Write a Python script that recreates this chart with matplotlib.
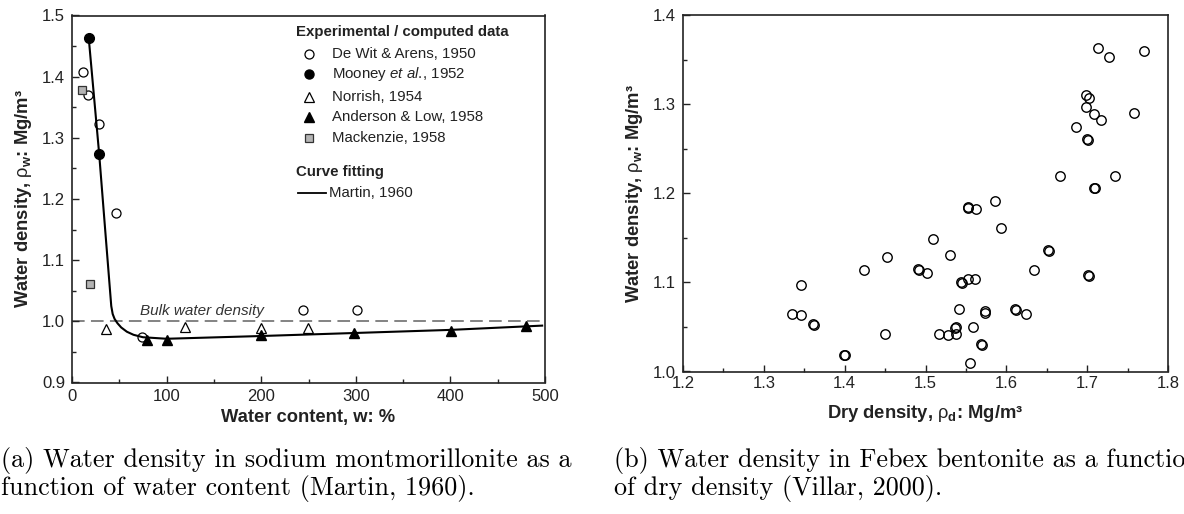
import matplotlib
matplotlib.use("Agg")
import matplotlib.pyplot as plt
from matplotlib.ticker import MultipleLocator, FormatStrFormatter
from matplotlib.lines import Line2D

plt.rcParams['font.family'] = ['Liberation Sans', 'DejaVu Sans']
plt.rcParams['mathtext.fontset'] = 'custom'
plt.rcParams['mathtext.rm'] = 'Liberation Sans'
plt.rcParams['mathtext.bf'] = 'Liberation Sans:bold'
plt.rcParams['mathtext.it'] = 'Liberation Sans:italic'

# ---------------- data: panel (a) ----------------
dewit_w = [12.1, 17.0, 28.4, 46.1, 73.8, 244, 301]
dewit_rho = [1.408, 1.370, 1.322, 1.177, 0.975, 1.019, 1.019]
mooney_w = [18.4, 28.7]
mooney_rho = [1.464, 1.274]
norrish_w = [36.2, 119, 200, 249]
norrish_rho = [0.988, 0.990, 0.989, 0.989]
anderson_w = [79.4, 100, 200, 298, 401, 480]
anderson_rho = [0.969, 0.969, 0.978, 0.981, 0.985, 0.992]
mack_w = [10.3, 19.5]
mack_rho = [1.3775, 1.061]
martin_w = [17.7, 28.7, 35, 41.5, 43, 45, 48, 52, 58, 65, 75, 100, 200, 300, 400, 497]
martin_rho = [1.463, 1.274, 1.151, 1.025, 1.012, 1.004, 0.997, 0.990, 0.983,
              0.978, 0.974, 0.9715, 0.976, 0.981, 0.986, 0.993]
bulk_density = 1.0

# ---------------- data: panel (b) ----------------
dry_density = [1.714, 1.727, 1.770, 1.699, 1.702, 1.699, 1.708, 1.717, 1.686, 1.758,
               1.700, 1.701, 1.666, 1.734, 1.710, 1.709, 1.552, 1.552, 1.563, 1.586,
               1.593, 1.509, 1.452, 1.530, 1.652, 1.653, 1.424, 1.491, 1.492, 1.502,
               1.634, 1.346, 1.544, 1.545, 1.552, 1.561, 1.701, 1.702, 1.335, 1.346,
               1.361, 1.362, 1.542, 1.573, 1.574, 1.611, 1.612, 1.624, 1.559, 1.538,
               1.537, 1.450, 1.517, 1.528, 1.538, 1.569, 1.570, 1.399, 1.400, 1.555]
water_density = [1.363, 1.353, 1.360, 1.310, 1.307, 1.297, 1.289, 1.282, 1.274, 1.290,
                 1.261, 1.260, 1.219, 1.219, 1.206, 1.206, 1.185, 1.183, 1.182, 1.191,
                 1.161, 1.149, 1.129, 1.131, 1.136, 1.135, 1.114, 1.115, 1.114, 1.110,
                 1.114, 1.097, 1.100, 1.099, 1.104, 1.104, 1.108, 1.107, 1.065, 1.063,
                 1.053, 1.052, 1.070, 1.068, 1.066, 1.070, 1.069, 1.065, 1.050, 1.050,
                 1.049, 1.042, 1.042, 1.041, 1.042, 1.031, 1.030, 1.019, 1.018, 1.009]

fig = plt.figure(figsize=(11.84, 5.14), dpi=100)

W, H = 1184.0, 514.0
axa = fig.add_axes([72 / W, 1 - 382.5 / H, 473 / W, 367 / H])
axb = fig.add_axes([683 / W, 1 - 371.5 / H, 485 / W, 356.5 / H])

label_fs = 13.2
tick_fs = 12

def style(ax):
    for s in ax.spines.values():
        s.set_linewidth(1.2)
        s.set_color('#222222')
    ax.tick_params(which='both', direction='in', top=False, right=False,
                   labelsize=tick_fs, width=1.0, color='#222222', pad=5,
                   labelcolor='#222222')
    ax.tick_params(which='major', length=5)
    ax.tick_params(which='minor', length=3)

# ---- panel (a)
ax = axa
ax.axhline(bulk_density, color='#7a7a7a', lw=1.3, dashes=(7, 3.5), zorder=1)
ax.plot(martin_w, martin_rho, color='black', lw=1.5, zorder=2)
ms = 7
ax.plot(dewit_w, dewit_rho, 'o', ms=ms - 0.5, mfc='none', mec='black', mew=0.9, zorder=3)
ax.plot(mooney_w, mooney_rho, 'o', ms=ms, mfc='black', mec='black', zorder=3)
ax.plot(norrish_w, norrish_rho, '^', ms=ms + 0.3, mfc='white', mec='black', mew=0.9, zorder=3)
ax.plot(anderson_w, anderson_rho, '^', ms=ms + 0.3, mfc='black', mec='black', zorder=3)
ax.plot(mack_w, mack_rho, 's', ms=5.8, mfc='#b4b4b4', mec='#333333', mew=0.9, zorder=3)
ax.text(72, bulk_density + 0.005, 'Bulk water density', style='italic', fontsize=11,
        color='#333333', va='bottom', ha='left')
ax.set_xlim(0, 500)
ax.set_ylim(0.9, 1.5)
ax.xaxis.set_major_locator(MultipleLocator(100))
ax.xaxis.set_minor_locator(MultipleLocator(50))
ax.yaxis.set_major_locator(MultipleLocator(0.1))
ax.yaxis.set_minor_locator(MultipleLocator(0.05))
ax.yaxis.set_major_formatter(FormatStrFormatter('%.1f'))
style(ax)
ax.set_xlabel('Water content, w: %', fontsize=label_fs, fontweight='bold', labelpad=3,
              color='#222222')
ax.set_ylabel(r'Water density, $\mathrm{\rho}_{\mathbf{w}}$: Mg/m³', fontsize=label_fs,
              fontweight='bold', labelpad=6, color='#222222')

# manual legend (as in the original figure)
lfs = 10.8
T = ax.transAxes
ax.text(0.473, 0.954, 'Experimental / computed data', transform=T, fontsize=lfs,
        fontweight='bold', va='center', ha='left', color='#222222')
rows = [0.894, 0.840, 0.779, 0.723, 0.665]
labels = ['De Wit & Arens, 1950', r'Mooney $\mathit{et\ al.}\!\mathrm{,}$ 1952',
          'Norrish, 1954', 'Anderson & Low, 1958', 'Mackenzie, 1958']
mk = [dict(marker='o', ms=6.5, mfc='none', mec='black', mew=0.9),
      dict(marker='o', ms=6.5, mfc='black', mec='black'),
      dict(marker='^', ms=7, mfc='white', mec='black', mew=0.9),
      dict(marker='^', ms=7, mfc='black', mec='black'),
      dict(marker='s', ms=5.5, mfc='#b4b4b4', mec='#333333', mew=0.9)]
for yy, lab, m in zip(rows, labels, mk):
    ax.add_line(Line2D([0.502], [yy], transform=T, linestyle='none', **m))
    ax.text(0.550, yy, lab, transform=T, fontsize=lfs, va='center', ha='left',
            color='#222222')
ax.text(0.473, 0.574, 'Curve fitting', transform=T, fontsize=lfs, fontweight='bold',
        va='center', ha='left', color='#222222')
ax.add_line(Line2D([0.477, 0.537], [0.515, 0.515], transform=T, color='black', lw=1.3))
ax.text(0.544, 0.515, 'Martin, 1960', transform=T, fontsize=lfs, va='center', ha='left',
        color='#222222')

# ---- panel (b)
ax = axb
ax.plot(dry_density, water_density, 'o', ms=6.8, mfc='none', mec='black', mew=1.0)
ax.set_xlim(1.2, 1.8)
ax.set_ylim(1.0, 1.4)
ax.xaxis.set_major_locator(MultipleLocator(0.1))
ax.xaxis.set_minor_locator(MultipleLocator(0.05))
ax.yaxis.set_major_locator(MultipleLocator(0.1))
ax.yaxis.set_minor_locator(MultipleLocator(0.05))
ax.xaxis.set_major_formatter(FormatStrFormatter('%.1f'))
ax.yaxis.set_major_formatter(FormatStrFormatter('%.1f'))
style(ax)
ax.tick_params(axis='x', pad=3)
ax.set_xlabel(r'Dry density, $\mathrm{\rho}_{\mathbf{d}}$: Mg/m³', fontsize=label_fs,
              fontweight='bold', labelpad=9, color='#222222')
ax.set_ylabel(r'Water density, $\mathrm{\rho}_{\mathbf{w}}$: Mg/m³', fontsize=label_fs,
              fontweight='bold', labelpad=5.5, color='#222222')

# ---- captions
cap_fs = 18.8
cfam = ['cmr10', 'DejaVu Serif']
fig.text(1 / W, 1 - 461 / H, '(a) Water density in sodium montmorillonite as a',
         fontsize=cap_fs, family=cfam, va='center', ha='left')
fig.text(1 / W, 1 - 489 / H, 'function of water content (Martin, 1960).',
         fontsize=cap_fs, family=cfam, va='center', ha='left')
fig.text(614 / W, 1 - 461 / H, '(b) Water density in Febex bentonite as a function',
         fontsize=cap_fs, family=cfam, va='center', ha='left')
fig.text(614 / W, 1 - 489 / H, 'of dry density (Villar, 2000).',
         fontsize=cap_fs, family=cfam, va='center', ha='left')

fig.savefig('out.png', dpi=100)
